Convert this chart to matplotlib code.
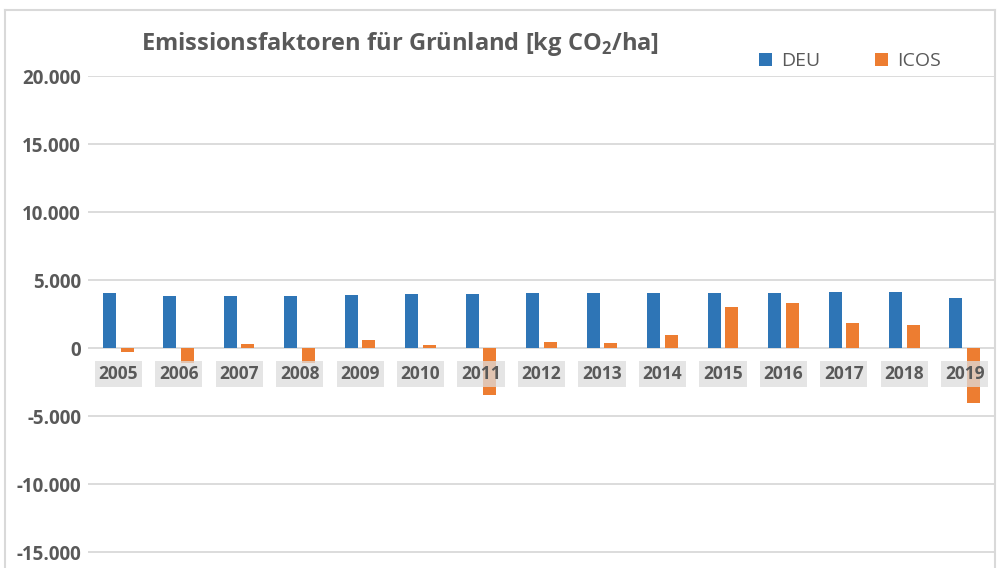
import matplotlib.pyplot as plt
from matplotlib.ticker import FuncFormatter
from matplotlib.lines import Line2D
import numpy as np

# data
years = ['2005', '2006', '2007', '2008', '2009', '2010', '2011', '2012',
         '2013', '2014', '2015', '2016', '2017', '2018', '2019']
deu = [4050, 3800, 3800, 3800, 3920, 3990, 3990, 4020,
       4020, 4070, 4070, 4070, 4140, 4140, 3680]
icos = [-320, -1100, 320, -1100, 610, 250, -3430, 415,
        340, 955, 2990, 3310, 1860, 1670, -4020]
y_ticks = [-15000, -10000, -5000, 0, 5000, 10000, 15000, 20000]

BLUE = '#2e75b6'
ORANGE = '#ed7d31'
TEXT = '#595959'
GRID = '#d9d9d9'

plt.rcParams['font.family'] = ['Open Sans', 'DejaVu Sans']
plt.rcParams['mathtext.fontset'] = 'custom'
plt.rcParams['mathtext.rm'] = 'Open Sans'
plt.rcParams['mathtext.bf'] = 'Open Sans:bold'

fig = plt.figure(figsize=(9.99, 5.68), dpi=100)
ax = fig.add_axes([88 / 999, 0, 907 / 999, 492 / 568])

x = np.arange(len(years))
w = 0.215
off = 0.145
ax.bar(x - off, deu, width=w, color=BLUE, label='DEU', zorder=2)
ax.bar(x + off, icos, width=w, color=ORANGE, label='ICOS', zorder=2)

ax.set_xlim(-0.5, len(years) - 0.5)
ax.set_ylim(-16176, 20000)
ax.set_yticks(y_ticks)
ax.yaxis.set_major_formatter(FuncFormatter(lambda v, p: f"{int(v):,}".replace(',', '.')))
ax.grid(axis='y', color=GRID, linewidth=1.3, zorder=0)
ax.tick_params(axis='y', length=0, pad=5, labelsize=13.5, labelcolor=TEXT)
for lbl in ax.get_yticklabels():
    lbl.set_fontweight('bold')
ax.set_xticks([])
for s in ax.spines.values():
    s.set_visible(False)

# year labels with semi transparent gray box just below zero line
for i, yr in enumerate(years):
    ax.text(i, -1900, yr, ha='center', va='center', fontsize=12.5,
            fontweight='bold', color=TEXT, zorder=3,
            bbox=dict(boxstyle='square,pad=0.22', facecolor='#dddddd',
                      edgecolor='none', alpha=0.75))

fig.text(400 / 999, 1 - 44 / 568, r'Emissionsfaktoren für Grünland [kg CO$_\mathbf{2}$/ha]',
         ha='center', va='center', fontsize=17, fontweight='bold', color=TEXT)

ax.legend(loc='center', bbox_to_anchor=(850 / 999, 1 - 61 / 568),
          bbox_transform=fig.transFigure, ncol=2, frameon=False,
          fontsize=14, handlelength=0.65, handleheight=0.65, columnspacing=2.8,
          handletextpad=0.5, labelcolor=TEXT)

# outer chart frame
fc = '#d9d9d9'
fig.add_artist(Line2D([5 / 999, 995 / 999], [1 - 10 / 568] * 2, color=fc, lw=1.5))
fig.add_artist(Line2D([5 / 999] * 2, [0, 1 - 10 / 568], color=fc, lw=1.5))
fig.add_artist(Line2D([995 / 999] * 2, [0, 1 - 10 / 568], color=fc, lw=1.5))

plt.savefig('out.png', dpi=100)
